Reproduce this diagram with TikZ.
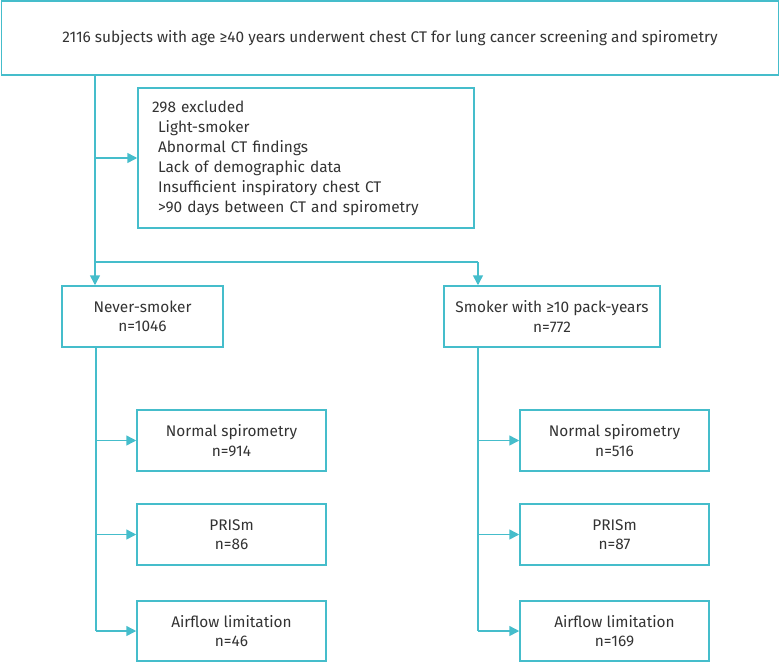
\documentclass[tikz,border=0pt]{standalone}
\usepackage{fontspec}
\setmainfont{Fira Sans}
\usetikzlibrary{arrows.meta}
\definecolor{tealc}{HTML}{45BDCB}
\definecolor{txt}{HTML}{333333}
\begin{document}
\begin{tikzpicture}[x=1pt,y=-1pt,
 box/.style={draw=tealc,line width=1.5pt,inner sep=0pt,text=txt,align=center,font=\fontsize{15.4}{19.5}\selectfont},
 arr/.style={draw=tealc,line width=1.5pt,-{Triangle[length=10pt,width=10pt]}},
 ln/.style={draw=tealc,line width=1.5pt}]
\useasboundingbox (0,0) rectangle (780,662);
\node[box,minimum width=777pt,minimum height=74pt] (top) at (390,38) {2116 subjects with age ≥40 years underwent chest CT for lung cancer screening and spirometry};
\node[box,align=left,text width=308pt,inner xsep=14pt,minimum height=140pt,font=\fontsize{15.4}{20}\selectfont] (excl) at (306,158) {298 excluded\\
\hspace*{6pt}Light-smoker\\
\hspace*{6pt}Abnormal CT findings\\
\hspace*{6pt}Lack of demographic data\\
\hspace*{6pt}Insufficient inspiratory chest CT\\
\hspace*{6pt}>90 days between CT and spirometry};
\node[box,minimum width=161pt,minimum height=61pt] (never) at (142.5,316.5) {Never-smoker\\n=1046};
\node[box,minimum width=216pt,minimum height=61pt] (smoker) at (552,316.5) {Smoker with ≥10 pack-years\\n=772};
\node[box,minimum width=189pt,minimum height=61pt] (lns) at (231.5,440.5) {Normal spirometry\\n=914};
\node[box,minimum width=189pt,minimum height=61pt] (lpr) at (231.5,534.5) {PRISm\\n=86};
\node[box,minimum width=189pt,minimum height=60pt] (lal) at (231.5,631) {Airflow limitation\\n=46};
\node[box,minimum width=189pt,minimum height=61pt] (rns) at (614.5,440.5) {Normal spirometry\\n=516};
\node[box,minimum width=189pt,minimum height=61pt] (rpr) at (614.5,534.5) {PRISm\\n=87};
\node[box,minimum width=189pt,minimum height=60pt] (ral) at (614.5,631) {Airflow limitation\\n=169};
\coordinate (trunkL) at (95,262);
\coordinate (trunkR) at (478,262);
\coordinate (colL) at (96,347);
\coordinate (colR) at (478,347);
\draw[ln] (top.south -| trunkL) -- (trunkL) -- (trunkR);
\draw[arr] (excl.west -| trunkL) -- (excl.west);
\draw[arr] (trunkL) -- (never.north -| trunkL);
\draw[arr] (trunkR) -- (smoker.north -| trunkR);
\draw[ln] (never.south -| colL) -- (lal.west -| colL);
\draw[ln] (smoker.south -| colR) -- (ral.west -| colR);
\foreach \n in {lns,lpr,lal} \draw[arr] (\n.west -| colL) -- (\n.west);
\foreach \n in {rns,rpr,ral} \draw[arr] (\n.west -| colR) -- (\n.west);
\end{tikzpicture}
\end{document}
